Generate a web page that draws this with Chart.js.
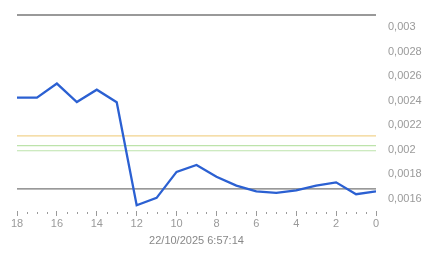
<!DOCTYPE html>
<html>
<head>
<meta charset="utf-8">
<script src="https://cdn.jsdelivr.net/npm/chart.js@4.4.0/dist/chart.umd.min.js"></script>
<style>
	html, body { margin: 0; padding: 0; background: #fff; }
	#wrap { width: 443px; height: 258px; }
</style>
</head>
<body>
<div id="wrap"><canvas id="priceChart"></canvas></div>
<script>
// hours before snapshot (x) and price values
var hours = [18, 17, 16, 15, 14, 13, 12, 11, 10, 9, 8, 7, 6, 5, 4, 3, 2, 1, 0];
var prices = [0.002425, 0.002425, 0.00254, 0.00239, 0.00249, 0.002388, 0.001547, 0.001607, 0.001819, 0.001876,
	0.00178, 0.001707, 0.00166, 0.001648, 0.001669, 0.001707, 0.001734, 0.001637, 0.001661];

// reference levels
var topLevel = 0.0031;
var orangeLevel = 0.002114;
var greenLevels = [0.002033, 0.001992];
var bottomLevel = 0.00168;

var yTickValues = [0.0016, 0.0018, 0.002, 0.0022, 0.0024, 0.0026, 0.0028, 0.003];
var xTitle = '22/10/2025 6:57:14';

function levelLine(v, color, width) {
	return {
		data : [ {x : hours[0], y : v}, {x : hours[hours.length - 1], y : v} ],
		borderColor : color,
		borderWidth : width,
		pointRadius : 0,
		clip : false,
		order : 1
	};
}

var pricePoints = [];
for (var i = 0; i < hours.length; i++) {
	pricePoints.push({x : hours[i], y : prices[i]});
}

// small dots between labelled ticks
var minorTicks = {
	id : 'minorTicks',
	afterDraw : function(chart) {
		var ctx = chart.ctx;
		var sc = chart.scales.x;
		ctx.save();
		ctx.fillStyle = '#9a9a9a';
		sc.ticks.forEach(function(t) {
			if (t.value % 2 !== 0) {
				ctx.fillRect(Math.round(sc.getPixelForValue(t.value)), chart.chartArea.bottom + 1, 1, 2);
			}
		});
		ctx.restore();
	}
};

var datasets = [
	levelLine(topLevel, '#777777', 1.3),
	levelLine(orangeLevel, '#f2d38e', 1.3),
	levelLine(greenLevels[0], '#bde3ab', 1.2),
	levelLine(greenLevels[1], '#bde3ab', 1.2),
	levelLine(bottomLevel, '#777777', 1.3),
	{
		data : pricePoints,
		borderColor : '#2b60d2',
		borderWidth : 2.3,
		pointRadius : 0,
		tension : 0,
		order : 0
	}
];

new Chart(document.getElementById('priceChart').getContext('2d'), {
	type : 'line',
	data : { datasets : datasets },
	plugins : [ minorTicks ],
	options : {
		responsive : true,
		maintainAspectRatio : false,
		animation : false,
		layout : { padding : { left : 17, top : 15, right : 0, bottom : 6 } },
		plugins : { legend : { display : false }, tooltip : { enabled : false } },
		scales : {
			x : {
				type : 'linear',
				reverse : true,
				min : 0,
				max : 18,
				border : { display : false },
				grid : {
					drawOnChartArea : false,
					drawTicks : true,
					tickLength : 5,
					tickColor : function(c) { return c.tick && c.tick.value % 2 === 0 ? '#9a9a9a' : 'rgba(0,0,0,0)'; }
				},
				ticks : {
					stepSize : 0.5,
					autoSkip : false,
					maxRotation : 0,
					padding : 1,
					color : '#9a9a9a',
					font : { family : 'Liberation Sans', size : 11 },
					callback : function(v) { return v % 2 === 0 ? String(v) : ''; }
				},
				title : {
					display : true,
					text : xTitle,
					color : '#888888',
					font : { family : 'Liberation Sans', size : 11 },
					padding : { top : 4, bottom : 4 }
				},
				afterFit : function(scale) { scale.height = 41; }
			},
			y : {
				position : 'right',
				min : 0.0015,
				max : topLevel,
				border : { display : false },
				grid : { display : false },
				afterBuildTicks : function(scale) {
					scale.ticks = yTickValues.map(function(v) { return {value : v}; });
				},
				ticks : {
					padding : 4,
					color : '#9a9a9a',
					font : { family : 'Liberation Sans', size : 11 },
					callback : function(v) { return String(v).replace('.', ','); }
				},
				afterFit : function(scale) { scale.width = 67; }
			}
		}
	}
});
</script>
</body>
</html>
